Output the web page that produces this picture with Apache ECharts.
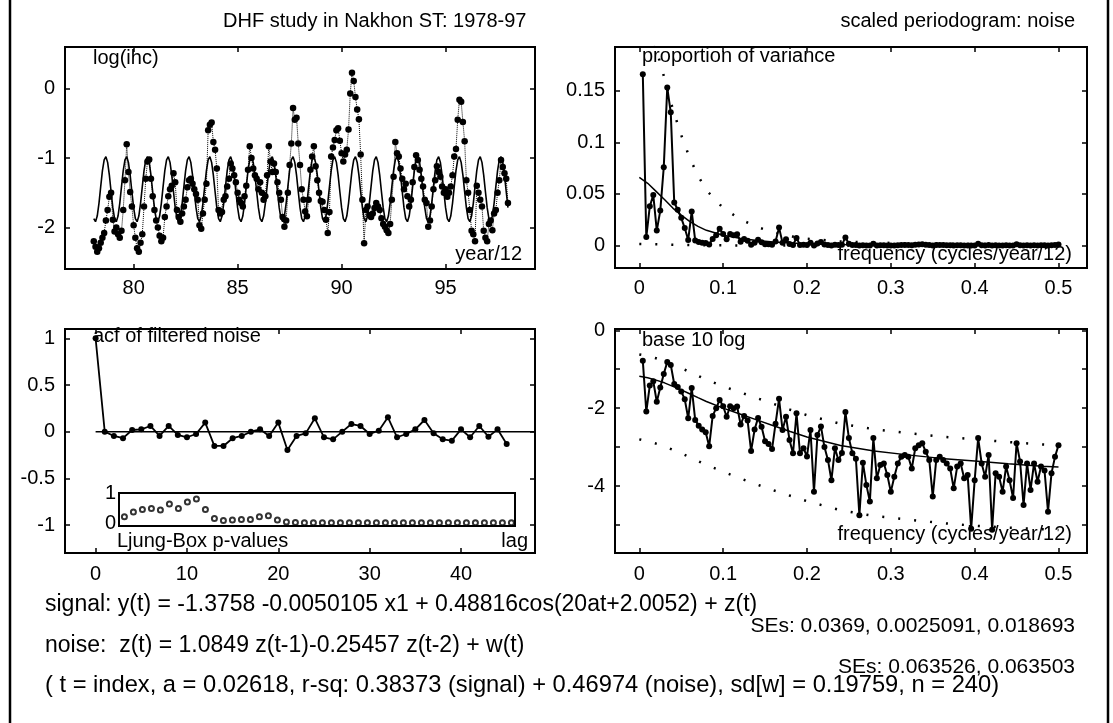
<!DOCTYPE html>
<html>
<head>
<meta charset="utf-8">
<script src="https://cdn.jsdelivr.net/npm/echarts@6/dist/echarts.min.js"></script>
<style>
  html, body { margin: 0; padding: 0; background: #fff; }
  #chart { width: 1113px; height: 723px; }
</style>
</head>
<body>
<div id="chart"></div>
<script>
// ---------------- data ----------------
// log(ihc), monthly, Jan 1978 .. Dec 1997 (one row per year)
const logIhc = [
  [-2.20, -2.28, -2.35, -2.30, -2.22, -2.15, -2.08, -1.90, -1.75, -1.56, -1.50, -1.89],
  [-2.06, -2.00, -2.10, -2.15, -2.05, -1.75, -1.32, -0.80, -1.20, -1.49, -1.70, -1.97],
  [-2.15, -2.30, -2.35, -2.22, -2.10, -1.70, -1.30, -1.05, -1.02, -1.30, -1.55, -1.75],
  [-1.90, -2.00, -2.12, -2.20, -2.15, -1.85, -1.70, -1.55, -1.45, -1.40, -1.22, -1.35],
  [-1.75, -1.85, -1.92, -1.80, -1.70, -1.60, -1.42, -1.32, -1.30, -1.37, -1.45, -1.52],
  [-1.60, -1.97, -2.02, -1.80, -1.60, -1.37, -0.60, -0.52, -0.49, -0.77, -0.88, -1.15],
  [-1.75, -1.80, -1.78, -1.60, -1.55, -1.41, -1.30, -1.08, -1.15, -1.25, -1.35, -1.50],
  [-1.60, -1.65, -1.70, -1.55, -1.40, -1.17, -0.83, -1.00, -1.15, -1.25, -1.30, -1.45],
  [-1.35, -1.50, -1.60, -1.55, -1.25, -0.83, -1.05, -1.20, -1.08, -1.20, -1.35, -1.50],
  [-1.60, -1.85, -1.99, -1.90, -1.50, -1.10, -0.79, -0.28, -0.45, -0.42, -0.79, -1.10],
  [-1.45, -1.60, -1.77, -1.84, -1.60, -1.17, -0.98, -0.83, -1.12, -1.32, -1.50, -1.62],
  [-1.63, -1.75, -1.89, -2.08, -1.78, -0.98, -0.85, -0.74, -0.60, -0.57, -0.75, -0.93],
  [-1.05, -0.95, -0.88, -0.59, -0.07,  0.23,  0.11, -0.12, -0.30, -0.44, -0.95, -1.60],
  [-2.23, -1.75, -1.70, -1.82, -1.85, -1.80, -1.72, -1.65, -1.70, -1.75, -1.87, -1.95],
  [-1.99, -2.04, -2.08, -1.95, -1.60, -1.27, -0.77, -0.93, -0.98, -1.15, -1.30, -1.45],
  [-1.37, -1.55, -1.70, -1.60, -1.35, -1.13, -0.96, -1.03, -1.17, -1.30, -1.41, -1.60],
  [-1.65, -1.99, -1.90, -1.70, -1.45, -1.32, -1.12, -1.20, -1.27, -1.41, -1.50, -1.45],
  [-1.56, -1.50, -1.41, -1.25, -0.98, -0.87, -0.45, -0.16, -0.19, -0.48, -0.76, -1.32],
  [-1.50, -1.75, -2.05, -2.10, -2.20, -1.40, -1.50, -1.60, -1.70, -2.05, -2.15, -2.20],
  [-1.95, -1.90, -2.04, -1.80, -1.75, -1.50, -1.32, -1.03, -1.13, -1.22, -1.30, -1.65]
];

// fitted signal (trend + annual cosine), monthly, same span
const signalFit = [
  [-1.874, -1.918, -1.837, -1.653, -1.413, -1.183, -1.026, -0.981, -1.063, -1.248, -1.487, -1.716],
  [-1.874, -1.918, -1.837, -1.653, -1.413, -1.183, -1.026, -0.981, -1.063, -1.248, -1.487, -1.716],
  [-1.874, -1.918, -1.837, -1.653, -1.413, -1.183, -1.026, -0.981, -1.063, -1.248, -1.487, -1.716],
  [-1.874, -1.918, -1.837, -1.653, -1.413, -1.183, -1.026, -0.981, -1.063, -1.248, -1.487, -1.716],
  [-1.874, -1.918, -1.837, -1.653, -1.413, -1.183, -1.026, -0.981, -1.063, -1.248, -1.487, -1.716],
  [-1.874, -1.918, -1.837, -1.653, -1.413, -1.183, -1.026, -0.981, -1.063, -1.248, -1.487, -1.716],
  [-1.874, -1.918, -1.837, -1.653, -1.413, -1.183, -1.026, -0.981, -1.063, -1.248, -1.487, -1.716],
  [-1.874, -1.918, -1.837, -1.653, -1.413, -1.183, -1.026, -0.981, -1.063, -1.248, -1.487, -1.716],
  [-1.874, -1.918, -1.837, -1.653, -1.413, -1.183, -1.026, -0.981, -1.063, -1.248, -1.487, -1.716],
  [-1.874, -1.918, -1.837, -1.653, -1.413, -1.183, -1.026, -0.981, -1.063, -1.248, -1.487, -1.716],
  [-1.874, -1.918, -1.837, -1.653, -1.413, -1.183, -1.026, -0.981, -1.063, -1.248, -1.487, -1.716],
  [-1.874, -1.918, -1.837, -1.653, -1.413, -1.183, -1.026, -0.981, -1.063, -1.248, -1.487, -1.716],
  [-1.874, -1.918, -1.837, -1.653, -1.413, -1.183, -1.026, -0.981, -1.063, -1.248, -1.487, -1.716],
  [-1.874, -1.918, -1.837, -1.653, -1.413, -1.183, -1.026, -0.981, -1.063, -1.248, -1.487, -1.716],
  [-1.874, -1.918, -1.837, -1.653, -1.413, -1.183, -1.026, -0.981, -1.063, -1.248, -1.487, -1.716],
  [-1.874, -1.918, -1.837, -1.653, -1.413, -1.183, -1.026, -0.981, -1.063, -1.248, -1.487, -1.716],
  [-1.874, -1.918, -1.837, -1.653, -1.413, -1.183, -1.026, -0.981, -1.063, -1.248, -1.487, -1.716],
  [-1.874, -1.918, -1.837, -1.653, -1.413, -1.183, -1.026, -0.981, -1.063, -1.248, -1.487, -1.716],
  [-1.874, -1.918, -1.837, -1.653, -1.413, -1.183, -1.026, -0.981, -1.063, -1.248, -1.487, -1.716],
  [-1.874, -1.918, -1.837, -1.653, -1.413, -1.183, -1.026, -0.981, -1.063, -1.248, -1.487, -1.716]
];
const firstYear = 78;          // axis is in years (19xx), twelve steps per year
const monthsPerYear = 12;

// scaled periodogram of the noise: proportion of variance at frequencies k/240, k = 1..120
const nObs = 240;
const periodogram = [
  1.66e-1, 8.2e-3, 3.8e-2, 4.9e-2, 1.45e-2, 3.39e-2, 7.59e-2, 1.53e-1, 1.29e-1, 4.17e-2,
  3.47e-2, 2.69e-2, 1.70e-2, 5.5e-3, 3.31e-2, 5.0e-3, 3.55e-3, 2.82e-3, 2.40e-3, 1.05e-3,
  6.31e-3, 1.00e-2, 1.62e-2, 1.12e-2, 6.03e-3, 1.12e-2, 1.00e-2, 1.10e-2, 3.80e-3, 6.31e-3,
  4.79e-3, 7.94e-4, 2.82e-3, 5.62e-3, 3.31e-3, 1.41e-3, 1.20e-3, 8.91e-4, 3.98e-3, 1.74e-2,
  2.75e-3, 6.03e-3, 1.51e-3, 6.92e-4, 7.41e-3, 6.92e-4, 9.33e-4, 5.75e-4, 2.75e-3, 7.08e-5,
  2.04e-3, 3.39e-3, 1.00e-3, 4.68e-4, 1.41e-4, 9.33e-4, 4.68e-4, 7.08e-4, 7.94e-3, 1.70e-3,
  6.92e-4, 5.01e-4, 1.78e-5, 3.98e-4, 1.07e-4, 3.98e-5, 1.70e-3, 1.58e-4, 3.47e-4, 3.80e-4,
  1.91e-4, 7.08e-5, 1.74e-4, 3.80e-4, 5.62e-4, 6.31e-4, 5.62e-4, 2.82e-4, 9.33e-4, 1.12e-3,
  1.26e-3, 7.59e-4, 4.68e-4, 5.37e-5, 4.68e-4, 5.62e-4, 4.68e-4, 3.80e-4, 2.82e-4, 8.71e-5,
  3.16e-4, 3.80e-4, 1.58e-4, 1.91e-4, 7.94e-6, 1.41e-4, 1.70e-3, 3.80e-4, 1.74e-4, 6.31e-4,
  7.59e-6, 2.14e-4, 1.74e-4, 7.08e-5, 3.16e-4, 1.41e-4, 4.90e-5, 1.26e-3, 4.27e-4, 3.24e-5,
  3.80e-4, 7.94e-5, 3.80e-4, 1.29e-4, 3.16e-4, 2.51e-4, 2.19e-5, 2.14e-4, 5.62e-4, 1.12e-3
];

// fitted AR(2) spectrum and its confidence band
const specFreq  = [0, 0.01, 0.02, 0.03, 0.04, 0.05, 0.06, 0.07, 0.08, 0.10, 0.12, 0.14,
                   0.16, 0.18, 0.20, 0.24, 0.28, 0.32, 0.36, 0.40, 0.44, 0.48, 0.50];
const specFit   = [6.61e-2, 6.03e-2, 5.25e-2, 4.47e-2, 3.63e-2, 2.95e-2, 2.34e-2, 1.86e-2,
                   1.48e-2, 1.00e-2, 7.08e-3, 5.01e-3, 3.55e-3, 2.51e-3, 1.82e-3, 1.10e-3,
                   7.94e-4, 6.31e-4, 5.13e-4, 4.37e-4, 3.72e-4, 3.24e-4, 3.09e-4];
const specUpper = [2.40e-1, 2.19e-1, 1.91e-1, 1.62e-1, 1.32e-1, 1.07e-1, 8.51e-2, 6.76e-2,
                   5.37e-2, 3.63e-2, 2.57e-2, 1.82e-2, 1.29e-2, 9.12e-3, 6.61e-3, 3.98e-3,
                   2.88e-3, 2.29e-3, 1.86e-3, 1.58e-3, 1.35e-3, 1.17e-3, 1.12e-3];
const specLower = [1.58e-3, 1.41e-3, 1.23e-3, 1.05e-3, 8.51e-4, 6.92e-4, 5.50e-4, 4.37e-4,
                   3.47e-4, 2.34e-4, 1.58e-4, 1.10e-4, 7.76e-5, 5.62e-5, 4.07e-5, 2.40e-5,
                   1.70e-5, 1.38e-5, 1.12e-5, 9.55e-6, 8.51e-6, 7.76e-6, 7.41e-6];

// autocorrelation of the filtered noise, lags 0..45
const acf = [
  1, 0.00, -0.046, -0.07, 0.018, 0.025, 0.061, -0.046, 0.061, -0.035,
  -0.06, -0.025, 0.097, -0.153, -0.153, -0.07, -0.046, 0.0, 0.025, -0.046,
  0.097, -0.196, -0.046, -0.018, 0.143, -0.06, -0.082, 0.0, 0.082, 0.061,
  -0.025, 0.011, 0.154, -0.06, -0.025, 0.025, 0.125, -0.018, -0.082, -0.096,
  0.025, -0.06, 0.061, -0.054, 0.025, -0.132
];

// Ljung-Box p-values, lags 3..46
const lbFirstLag = 3;
const ljungBox = [
  0.21, 0.37, 0.45, 0.48, 0.43, 0.63, 0.48, 0.70, 0.80, 0.45,
  0.15, 0.08, 0.10, 0.12, 0.12, 0.21, 0.24, 0.10, 0.03, 0.02,
  0.01, 0.01, 0.01, 0.005, 0.005, 0.005, 0.005, 0.005, 0.005, 0.005,
  0.005, 0.005, 0.005, 0.005, 0.005, 0.005, 0.005, 0.005, 0.005, 0.005,
  0.005, 0.005, 0.005, 0.005
];

// text
const titleLeft  = 'DHF study in Nakhon ST: 1978-97';
const titleRight = 'scaled periodogram: noise';
const noteLines = [
  'signal: y(t) = -1.3758 -0.0050105 x1 + 0.48816cos(20at+2.0052) + z(t)',
  'SEs: 0.0369, 0.0025091, 0.018693',
  'noise:  z(t) = 1.0849 z(t-1)-0.25457 z(t-2) + w(t)',
  'SEs: 0.063526, 0.063503',
  '( t = index, a = 0.02618, r-sq: 0.38373 (signal) + 0.46974 (noise), sd[w] = 0.19759, n = 240)'
];

// ---------------- chart ----------------
const FONT = '"Liberation Sans", Arial, Helvetica, sans-serif';
const INK = '#000';
const TICK_FS = 20;

const flat = rows => rows.reduce((a, r) => a.concat(r), []);
const monthX = i => firstYear + (i + 1) / monthsPerYear;
const obsPts = flat(logIhc).map((v, i) => [monthX(i), v]);
const fitPts = flat(signalFit).map((v, i) => [monthX(i), v]);
const perPts = periodogram.map((p, i) => [(i + 1) / nObs, p]);
const fitSpec = specFit.map((p, i) => [specFreq[i], p]);
const upSpec = specUpper.map((p, i) => [specFreq[i], p]);
const loSpec = specLower.map((p, i) => [specFreq[i], p]);
const acfPts = acf.map((v, lag) => [lag, v]);
const lbPts = ljungBox.map((p, i) => [lbFirstLag + i, p]);

// axis ranges of the four panels and the inset
const R = {
  ts:   { x: [76.7, 99.3],    y: [-2.6, 0.6] },
  per:  { x: [-0.029, 0.534], y: [-0.0217, 0.1923] },
  acf:  { x: [-3.35, 48.1],   y: [-1.3, 1.1] },
  lper: { x: [-0.029, 0.534], y: [1.905e-6, 1.079] },
  lb:   { x: [2.4, 46.4],     y: [-0.1, 1.0] }
};

function stepLabel(step, digits) {
  return function (v) {
    const q = v / step;
    if (Math.abs(q - Math.round(q)) > 1e-6) return '';
    return String(parseFloat(v.toFixed(digits)));
  };
}
function evenDecade(v) {
  const e = Math.log10(v), r = Math.round(e);
  return (Math.abs(e - r) < 1e-6 && r % 2 === 0) ? String(r) : '';
}
const noLine = () => ({ show: false, onZero: false });
const tick = () => ({ show: true, inside: true, length: 5, lineStyle: { color: INK, width: 1.5 } });
const lbl = (fmt, margin) => ({
  show: true, color: INK, fontFamily: FONT, fontSize: TICK_FS, margin: margin,
  formatter: fmt, showMinLabel: true, showMaxLabel: true
});

function axisPair(dim, grid, range, split, fmt, margin, type) {
  const base = {
    gridIndex: grid, type: type || 'value', min: range[0], max: range[1],
    splitNumber: split, axisLine: noLine(), splitLine: { show: false },
    axisTick: tick()
  };
  if (type === 'log') base.logBase = 10;
  const first = Object.assign({}, base, {
    position: dim === 'x' ? 'bottom' : 'left', axisLabel: lbl(fmt, margin)
  });
  const second = Object.assign({}, base, {
    position: dim === 'x' ? 'top' : 'right', axisLabel: { show: false }
  });
  return [first, second];
}

const xAxes = [].concat(
  axisPair('x', 0, R.ts.x, 5, stepLabel(5, 0), 9),
  axisPair('x', 1, R.per.x, 5, stepLabel(0.1, 2), 10),
  axisPair('x', 2, R.acf.x, 5, stepLabel(10, 0), 11),
  axisPair('x', 3, R.lper.x, 5, stepLabel(0.1, 2), 11),
  [{ gridIndex: 4, type: 'value', min: R.lb.x[0], max: R.lb.x[1], position: 'bottom',
     axisLine: noLine(), axisTick: { show: false },
     axisLabel: { show: false }, splitLine: { show: false } }]
);
const yAxes = [].concat(
  axisPair('y', 0, R.ts.y, 3, stepLabel(1, 0), 10),
  axisPair('y', 1, R.per.y, 4, stepLabel(0.05, 3), 10),
  axisPair('y', 2, R.acf.y, 5, stepLabel(0.5, 1), 10),
  axisPair('y', 3, R.lper.y, 5, evenDecade, 10, 'log'),
  [{ gridIndex: 4, type: 'value', min: R.lb.y[0], max: R.lb.y[1], splitNumber: 1,
     position: 'left', axisLine: noLine(), axisTick: { show: false },
     splitLine: { show: false }, axisLabel: lbl(stepLabel(1, 0), 3) }]
);

const gridBox = (left, top, width, height) => ({
  left, top, width, height, show: true, borderColor: INK, borderWidth: 2,
  backgroundColor: 'transparent', containLabel: false
});

const dotted = { color: INK, width: 2.5, type: [2, 14], cap: 'butt' };

function lineSeries(ax, data, opts) {
  return Object.assign({
    type: 'line', xAxisIndex: ax, yAxisIndex: ax, data: data,
    showSymbol: false, symbol: 'none', clip: true, silent: true,
    lineStyle: { color: INK, width: 1.5 }, animation: false
  }, opts || {});
}
const dots = size => ({ showSymbol: true, symbol: 'circle', symbolSize: size,
                        itemStyle: { color: INK, borderWidth: 0 } });

const series = [
  // log(ihc) with fitted signal
  lineSeries(0, fitPts, { lineStyle: { color: INK, width: 1.6 } }),
  lineSeries(0, obsPts, Object.assign(dots(6.5), { lineStyle: { color: INK, width: 1, type: 'dotted' } })),

  // periodogram, linear
  lineSeries(2, upSpec, { lineStyle: dotted }),
  lineSeries(2, loSpec, { lineStyle: dotted }),
  lineSeries(2, fitSpec, { lineStyle: { color: INK, width: 1.5 } }),
  lineSeries(2, perPts, Object.assign(dots(6), { lineStyle: { color: INK, width: 2 } })),

  // acf of filtered noise
  lineSeries(4, [[acfPts[0][0], 0], [R.acf.x[1], 0]], { lineStyle: { color: INK, width: 1.5 } }),
  lineSeries(4, acfPts, Object.assign(dots(6), { lineStyle: { color: INK, width: 1.8 } })),

  // periodogram, base 10 log
  lineSeries(6, upSpec, { lineStyle: dotted }),
  lineSeries(6, loSpec, { lineStyle: dotted }),
  lineSeries(6, fitSpec, { lineStyle: { color: INK, width: 1.5 } }),
  lineSeries(6, perPts, Object.assign(dots(6), { lineStyle: { color: INK, width: 2 } })),

  // Ljung-Box p-values
  { type: 'scatter', xAxisIndex: 8, yAxisIndex: 8, data: lbPts, symbol: 'emptyCircle',
    symbolSize: 5, silent: true, animation: false, z: 5,
    itemStyle: { color: INK, borderWidth: 1 } }
];

function text(str, x, y, align, size) {
  return { type: 'text', x: x, y: y, z: 100, silent: true,
           style: { text: str, fill: INK, font: size + 'px ' + FONT,
                    align: align, verticalAlign: 'middle' } };
}
const graphics = [
  { type: 'line', z: 100, silent: true, shape: { x1: 10, y1: 0, x2: 10, y2: 723 },
    style: { stroke: INK, lineWidth: 2.5 } },
  { type: 'line', z: 100, silent: true, shape: { x1: 1108, y1: 0, x2: 1108, y2: 723 },
    style: { stroke: INK, lineWidth: 2.5 } },
  text(titleLeft, 223, 21, 'left', 20),
  text(titleRight, 1075, 21, 'right', 20),
  text('log(ihc)', 93, 58, 'left', 20),
  text('year/12', 522, 254, 'right', 20),
  text('proportion of variance', 642, 56, 'left', 20),
  text('frequency (cycles/year/12)', 1072, 254, 'right', 20),
  text('acf of filtered noise', 93, 336, 'left', 20),
  text('Ljung-Box p-values', 117, 541, 'left', 20),
  text('lag', 528, 541, 'right', 20),
  text('base 10 log', 642, 340, 'left', 20),
  text('frequency (cycles/year/12)', 1072, 534, 'right', 20),
  text(noteLines[0], 45, 605, 'left', 23),
  text(noteLines[1], 1075, 626, 'right', 21),
  text(noteLines[2], 45, 646, 'left', 23),
  text(noteLines[3], 1075, 667, 'right', 21),
  text(noteLines[4], 45, 685, 'left', 23.7)
];

const chart = echarts.init(document.getElementById('chart'), null, { renderer: 'canvas' });
chart.setOption({
  animation: false,
  backgroundColor: '#fff',
  textStyle: { fontFamily: FONT, color: INK },
  grid: [
    gridBox(65, 47, 470, 222),
    gridBox(615, 47, 472, 221),
    gridBox(65, 329, 470, 224),
    gridBox(615, 329, 472, 224),
    gridBox(119, 493, 396, 33)
  ],
  xAxis: xAxes,
  yAxis: yAxes,
  series: series,
  graphic: graphics
});
</script>
</body>
</html>
